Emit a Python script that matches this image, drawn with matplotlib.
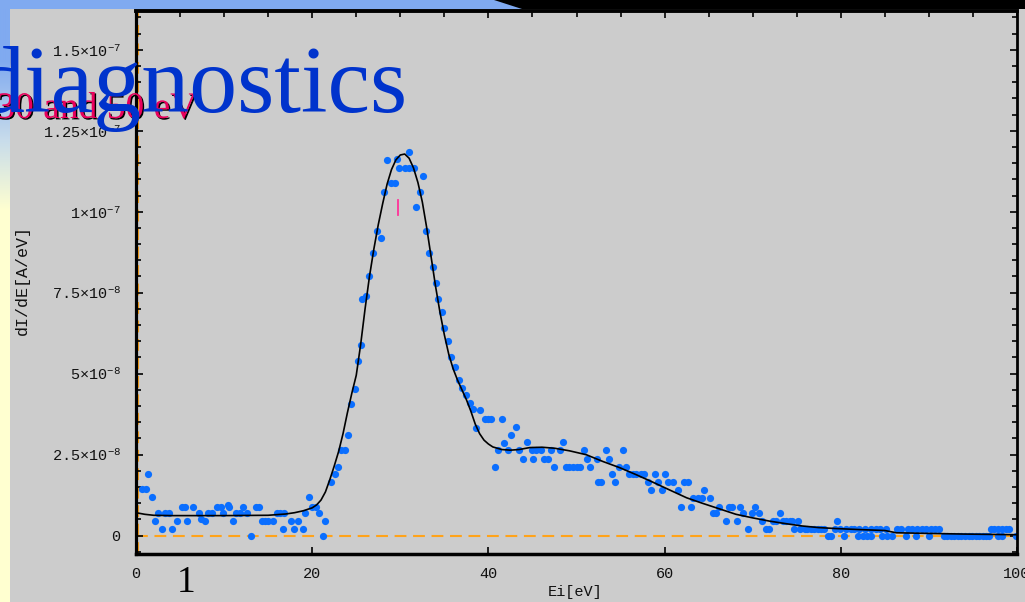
import numpy as np
import matplotlib
matplotlib.use("Agg")
import matplotlib.pyplot as plt
import matplotlib.patheffects as pe
from matplotlib.patches import Rectangle, Polygon
from matplotlib.ticker import MultipleLocator, FixedLocator

# ---------------- data (y in units of 1e-8 A/eV) ----------------
x_pts = [0.7, 1.1, 1.4, 1.8, 2.15, 2.5, 2.9, 3.3, 3.8, 4.1, 4.7, 5.2, 5.6, 5.8, 6.5, 7.1, 7.4, 7.8,
         8.2, 8.6, 9.2, 9.6, 9.9, 10.4, 10.6, 11.0, 11.4, 11.8, 12.2, 12.6, 13.0, 13.6, 14.0, 14.25,
         14.6, 15.0, 15.5, 15.95, 16.3, 16.7, 16.8, 17.65, 17.95, 18.4, 18.9, 19.2, 19.6, 20.0, 20.4,
         20.8, 21.2, 21.5, 22.1, 22.55, 22.9, 23.3, 23.7, 24.1, 24.45, 24.9,
         25.2, 25.5, 25.7, 26.1, 26.5, 26.9, 27.3, 27.8, 28.1, 28.5, 28.9, 29.4, 29.6, 29.9, 30.5,
         31.0, 31.0, 31.5, 31.75, 32.2, 32.6, 32.95, 33.3, 33.7, 34.0, 34.3, 34.7, 35.0, 35.4, 35.8,
         36.2, 36.7, 37.0, 37.5, 37.9, 38.2, 38.6, 39.1, 39.6, 39.9, 40.3, 40.7, 41.1, 41.5, 41.8,
         42.2, 42.6, 43.1, 43.5, 43.9, 44.4, 44.9, 45.1, 45.4, 46.0, 46.3, 46.75, 47.1, 47.5, 48.1,
         48.45, 48.8, 49.2, 49.6, 50.0, 50.4, 50.8, 51.2, 51.55, 52.3, 52.4, 52.8, 53.3, 53.7, 54.05,
         54.4, 54.8, 55.25, 55.6, 56.0, 56.4, 56.8, 57.3, 57.7, 58.1, 58.5, 58.9, 59.3, 59.7, 60.05,
         60.4, 60.9, 61.5, 61.9, 62.25, 62.6, 63.0, 63.2, 63.75, 64.25, 64.5, 65.1, 65.45, 65.8, 66.2,
         67.0, 67.35, 67.7, 68.2, 68.6, 68.9, 69.5, 69.9, 70.3, 70.7, 71.1, 71.5, 71.9, 72.3, 72.6,
         73.1, 73.4, 73.8, 74.2, 74.5, 75.1, 74.7, 75.4, 75.9, 76.2, 76.6, 77.0, 77.4, 77.8, 78.1,
         78.5, 78.9, 79.3, 79.6, 79.9, 80.4, 80.6, 81.2, 81.5, 81.9, 82.1, 82.5, 82.8, 83.0, 83.4,
         83.4, 84.0, 84.5, 84.7, 85.1, 85.3, 85.8, 86.4, 86.8, 87.4, 87.6, 88.1, 88.5, 88.7, 89.2,
         89.7, 90.0, 90.2, 90.7, 91.2, 91.7, 92.1, 92.5, 92.9, 93.3, 93.7, 94.1, 94.5, 94.9, 95.3,
         95.7, 96.1, 96.5, 96.8, 97.0, 97.4, 97.8, 97.8, 98.3, 98.3, 98.8, 99.1, 99.85]
y_pts = [1.44, 1.44, 1.9, 1.18, 0.44, 0.70, 0.22, 0.70, 0.70, 0.22, 0.44, 0.9, 0.9, 0.44, 0.9, 0.7, 0.5, 0.44,
         0.7, 0.7, 0.9, 0.9, 0.7, 0.95, 0.9, 0.44, 0.7, 0.7, 0.9, 0.7, 0.0, 0.9, 0.9, 0.44,
         0.44, 0.44, 0.44, 0.7, 0.7, 0.22, 0.7, 0.44, 0.22, 0.44, 0.22, 0.7, 1.18, 0.9, 0.9,
         0.7, 0.0, 0.44, 1.65, 1.9, 2.12, 2.63, 2.63, 3.12, 4.06, 4.53,
         5.4, 5.9, 7.3, 7.4, 8.0, 8.72, 9.39, 9.19, 10.6, 11.6, 10.89, 10.89, 11.63, 11.35, 11.35,
         11.35, 11.83, 11.35, 10.13, 10.6, 11.09, 9.39, 8.72, 8.3, 7.8, 7.3, 6.9, 6.4, 6.0, 5.5,
         5.2, 4.8, 4.55, 4.35, 4.1, 3.9, 3.33, 3.87, 3.6, 3.6, 3.6, 2.12, 2.63, 3.6, 2.86,
         2.63, 3.12, 3.34, 2.63, 2.38, 2.88, 2.65, 2.38, 2.65, 2.65, 2.38, 2.38, 2.65, 2.12, 2.65,
         2.88, 2.12, 2.12, 2.12, 2.12, 2.12, 2.65, 2.38, 2.12, 2.38, 1.65, 1.65, 2.65, 2.38, 1.9,
         1.65, 2.12, 2.65, 2.12, 1.9, 1.9, 1.9, 1.9, 1.9, 1.65, 1.42, 1.9, 1.65, 1.42, 1.9,
         1.65, 1.65, 1.42, 0.9, 1.65, 1.65, 0.9, 1.16, 1.16, 1.16, 1.42, 1.16, 0.7, 0.7, 0.9,
         0.44, 0.9, 0.9, 0.44, 0.9, 0.7, 0.22, 0.7, 0.9, 0.7, 0.44, 0.22, 0.22, 0.44, 0.44,
         0.7, 0.44, 0.44, 0.44, 0.44, 0.44, 0.22, 0.22, 0.22, 0.22, 0.22, 0.22, 0.22, 0.22, 0.22,
         0.0, 0.0, 0.22, 0.44, 0.22, 0.0, 0.22, 0.22, 0.22, 0.0, 0.22, 0.0, 0.22, 0.0, 0.0,
         0.22, 0.22, 0.22, 0.0, 0.22, 0.0, 0.0, 0.22, 0.22, 0.0, 0.22, 0.22, 0.0, 0.22, 0.22,
         0.22, 0.0, 0.22, 0.22, 0.22, 0.0, 0.0, 0.0, 0.0, 0.0, 0.0, 0.0, 0.0, 0.0, 0.0,
         0.0, 0.0, 0.0, 0.0, 0.22, 0.22, 0.22, 0.0, 0.22, 0.0, 0.22, 0.22, 0.0]

fit_x = [0, 1, 2, 4, 10, 15, 17, 18, 19, 20, 20.5, 21, 21.5, 22, 22.5, 23, 23.5, 24, 24.5, 25, 25.5,
         26, 26.5, 27, 27.5, 28, 28.5, 29, 29.5, 30, 30.5, 31, 31.5, 32, 32.5, 33, 33.5, 34, 34.5,
         35, 35.5, 36, 36.5, 37, 37.5, 38, 38.5, 39, 39.5, 40, 40.5, 41.5, 42.5, 43.5, 44.7, 46.1,
         47.5, 49.2, 51.1, 53, 54.9, 56.8, 58.6, 60.5, 62.5, 64.3, 66.2, 68.1, 70, 71.9, 73.8, 75.6,
         77.5, 79.5, 82, 85, 86.3, 90, 94, 100]
fit_y = [0.71, 0.66, 0.63, 0.62, 0.62, 0.63, 0.67, 0.71, 0.77, 0.86, 0.95, 1.1, 1.35, 1.73, 2.15, 2.6,
         3.15, 3.8, 4.4, 4.95, 5.9, 7.0, 8.0, 8.85, 9.6, 10.25, 10.85, 11.3, 11.6, 11.75, 11.78, 11.65,
         11.35, 10.9, 10.3, 9.5, 8.6, 7.7, 6.9, 6.2, 5.6, 5.15, 4.8, 4.5, 4.2, 3.85, 3.45, 3.15, 2.95,
         2.83, 2.74, 2.66, 2.64, 2.66, 2.72, 2.73, 2.7, 2.62, 2.5, 2.29, 2.1, 1.88, 1.66, 1.42, 1.17,
         1.0, 0.83, 0.66, 0.55, 0.45, 0.37, 0.3, 0.25, 0.22, 0.19, 0.16, 0.09, 0.07, 0.05, 0.03]

ytick_vals = [0, 2.5, 5, 7.5, 10, 12.5, 15]
ytick_labels = ["0", "2.5×10^{-8}", "5×10^{-8}", "7.5×10^{-8}", "1×10^{-7}", "1.25×10^{-7}", "1.5×10^{-7}"]
xtick_vals = [0, 20, 40, 60, 80, 100]
xtick_labels = ["0", "20", "40", "60", "80", "100"]
mark_x = 29.7
mark_y = [9.9, 10.35]

# ---------------- style ----------------
plt.rcParams['mathtext.fontset'] = 'custom'
plt.rcParams['mathtext.rm'] = 'Liberation Mono'
plt.rcParams['mathtext.it'] = 'Liberation Mono'
plt.rcParams['lines.scale_dashes'] = False
MONO = 'Liberation Mono'
W, H = 1025, 602

fig = plt.figure(figsize=(W / 100, H / 100), dpi=100)
fig.patch.set_facecolor('#cccccc')

# slide background decorations
bg = fig.add_axes([0, 0, 1, 1])
bg.set_zorder(-5)
bg.set_xlim(0, W)
bg.set_ylim(H, 0)
bg.axis('off')
rows = np.arange(H)
top_c = np.array([128, 170, 240]) / 255
mid_c = np.array([200, 220, 235]) / 255
bot_c = np.array([255, 255, 208]) / 255
grad = np.zeros((H, 1, 3))
for k in range(3):
    grad[:, 0, k] = np.interp(rows, [0, 60, 140, 210, H], [top_c[k], top_c[k], mid_c[k], bot_c[k], bot_c[k]])
bg.imshow(grad, extent=[0, 10, H, 0], aspect='auto', interpolation='bilinear')
bg.add_patch(Rectangle((10, 0), W - 10, 602, color='#cccccc', lw=0))
bg.add_patch(Rectangle((0, 0), W, 8.5, color='#80aaf0', lw=0))
bg.add_patch(Polygon([(494, 0), (W, 0), (W, 9), (522, 9)], closed=True, color='black', lw=0))

# main axes
L, R, T, B = 136, 1017, 10.5, 554
ax = fig.add_axes([L / W, (H - B) / H, (R - L) / W, (B - T) / H])
ax.set_facecolor('#cccccc')
ax.set_xlim(0, 100)
ax.set_ylim(-0.565, 16.21)

orange = '#ffa31a'
ax.axhline(0, color=orange, lw=1.5, ls=(0, (8.5, 4.8)), zorder=1)
ax.axvline(0.2, color=orange, lw=1.5, ls=(0, (8.5, 4.8)), zorder=1)

ax.plot(x_pts, y_pts, 'o', color='#0a6eff', ms=5.2, mew=0, zorder=2)
ax.plot(fit_x, fit_y, '-', color='black', lw=1.2, zorder=3)
ax.plot([mark_x, mark_x], mark_y, '-', color='#ff3399', lw=1.3, zorder=3)

for s, w in (('left', 2.3), ('bottom', 2.5), ('top', 2.8), ('right', 2.0)):
    ax.spines[s].set_linewidth(w)
    ax.spines[s].set_color('black')
    ax.spines[s].set_zorder(4)

ax.xaxis.set_major_locator(FixedLocator(xtick_vals))
ax.set_xticklabels(xtick_labels)
ax.xaxis.set_minor_locator(MultipleLocator(5))
ax.yaxis.set_major_locator(FixedLocator(ytick_vals))
ax.set_yticklabels([l if l == "0" else r"$\mathregular{%s}$" % l for l in ytick_labels])
ax.yaxis.set_minor_locator(MultipleLocator(0.5))

ax.tick_params(axis='x', which='major', direction='in', length=5, width=1.2, top=True, bottom=True,
               pad=9.5, labelsize=11, labelcolor='#111111')
ax.tick_params(axis='x', which='minor', direction='in', length=4, width=1.2, top=True, bottom=False)
ax.tick_params(axis='y', which='major', direction='in', length=5, width=1.2, left=True, right=True,
               pad=11, labelsize=11, labelcolor='#111111')
ax.tick_params(axis='y', which='minor', direction='in', length=3.5, width=1.2, left=True, right=True)
for lab in ax.get_xticklabels() + ax.get_yticklabels():
    lab.set_fontfamily(MONO)

fig.text(22 / W, 1 - 280 / H, "dI/dE[A/eV]", rotation=90, ha='center', va='center',
         fontsize=12, family=MONO, color='#111111')
fig.text(575 / W, 1 - 592 / H, "Ei[eV]", ha='center', va='center',
         fontsize=11, family=MONO, color='#111111')

# slide overlay texts
fig.text(-3.7 / W, 1 - 118 / H, "30 and 50 eV", ha='left', va='baseline', fontsize=27,
         family='Liberation Serif', color='#e8005c', zorder=6,
         path_effects=[pe.withSimplePatchShadow(offset=(1.0, -1.0), shadow_rgbFace='black', alpha=1.0)])
fig.text(-23 / W, 1 - 112 / H, "diagnostics", ha='left', va='baseline', fontsize=69,
         family='Liberation Serif', color='#0033cc', zorder=7)
fig.text(177 / W, 1 - 592 / H, "1", ha='left', va='baseline', fontsize=27,
         family='Liberation Serif', color='black', zorder=7)

fig.savefig("out.png", dpi=100, facecolor=fig.get_facecolor())
